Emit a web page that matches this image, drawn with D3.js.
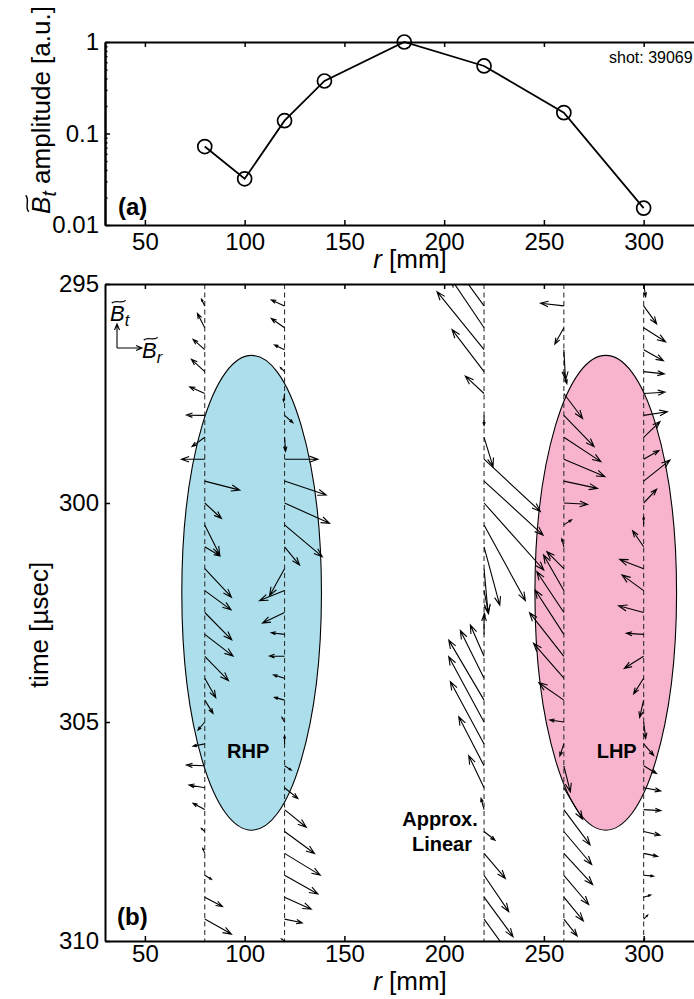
<!DOCTYPE html>
<html>
<head>
<meta charset="utf-8">
<script src="https://cdn.jsdelivr.net/npm/d3@7"></script>
<style>
  body { margin: 0; background: #fff; }
  svg { display: block; }
</style>
</head>
<body>
<div id="container"></div>
<script>
/* CONSTANTS */
const width = 694, height = 999;
const fontFace = '"Liberation Sans", Arial, Helvetica, sans-serif';

/* DATA : panel (a) */
const probeR = [80, 100, 120, 140, 180, 220, 260, 300];
const ampBt = [0.072, 0.032, 0.138, 0.375, 1.0, 0.547, 0.169, 0.0153];
const ampTicks = [0.01, 0.1, 1];
const ampTickLabels = ["0.01", "0.1", "1"];
const rTicks = [50, 100, 150, 200, 250, 300];

/* DATA : panel (b) quiver, Br / Bt in a.u. (Bt positive = up) */
const quiverR = [80, 120, 220, 260, 300];
const quiverT = [295, 295.5, 296, 296.5, 297, 297.5, 298, 298.5, 299, 299.5, 300,
                 300.5, 301, 301.5, 302, 302.5, 303, 303.5, 304, 304.5, 305,
                 305.5, 306, 306.5, 307, 307.5, 308, 308.5, 309, 309.5, 310];
const timeTicks = [295, 300, 305, 310];

const br80 = [0, -3.3, -7.3, -11.7, -13.3, -15, -18.3, -12.7, -23.3, 35, 16.7, 15, 15, 26.7, 26.3, 27,
              28.3, 23.7, 11, 8.3, -6.7, -11.7, -18.3, -15.7, -11.7, -3.3, -2, 6.7, 17.7, 26.7, 0];
const bt80 = [0, 6.7, 14.3, 10.3, 12.3, 6.7, 0.3, -9.3, 0, -9, -15.5, -30, -9, -28.5, -19.3, -27.3,
              -21.7, -24.3, -19.5, -13.3, -8, -2.3, 0.7, 2.7, 6.3, 3, 5, -4, -9.3, -15, 0];

const br120 = [0, -13.3, -13.3, -10, -4, -1, 8.3, 1, 33.3, 41.7, 45, 37.7, 15, -15, -25, -22,
               -13.3, -15, -11, -10, -2.5, 0, 6.7, 13.3, 21.7, 30, 35.7, 33.3, 26.7, 17.7, -3];
const bt120 = [0, 6, 9.3, 4.7, 4, -8, -7.3, -14, 0, -14, -20.3, -31.7, -18.3, -27, -10, -10.5,
               1.7, 0.3, 3.3, 2.7, 4.5, 8, -4.3, -10.7, -17.7, -22, -21.7, -18.7, -12, -3.7, 2];

const br220 = [-20, -24, -33, -47, -32, -18.7, 0, 9, 56.3, 59, 59.7, 41.3, 15.7, 4, 4.5, 1,
               0, -13.7, -23.7, -35.3, -35.3, -33.7, -25.3, -15.3, -3, 11, 21.3, 24.7, 29, 29, 25];
const bt220 = [28, 33, 49, 58, 42, 17.3, -10, -29.3, -52.3, -54, -67, -75.7, -58.3, -44, -23, -3,
               20, 31.3, 47.7, 60, 65.3, 62.3, 49, 32, 11.3, -8.7, -25, -36.3, -39.5, -40, -35];

const br260 = [0, -23.3, -9, 1.7, 3, 18.7, 30.3, 37, 41, 33.7, 23.7, 7.7, -2, -17, -20.3, -27,
               -28.7, -34.3, -30.3, -25, -14, -4, 6.5, 18.7, 26.2, 27.8, 28.8, 24.8, 19.5, 13.3, 8];
const bt260 = [0, 2.7, -16.3, -30.3, -12, -25, -31.3, -24.3, -17.3, -7.3, -1.3, 5, 8, 17, 35.6, 40.8,
               44.4, 43.6, 34.9, 17.4, 2, -12, -26, -31.5, -35.3, -33, -31.2, -29.2, -23.7, -16.8, -10];

const br300 = [2, 13, 22, 19.7, 20.7, 21.3, 23.7, 16.3, 15.3, 26.3, 13, 0, -11, -24, -21.7, -25,
               -17.3, -19.3, -10, -4, 2, 10, 12.8, 17, 17.3, 16.3, 14, 10, 7, 4, 1];
const bt300 = [-12.7, -18, -14, -11, -2.3, 1.3, 3.7, 15.7, 8.7, 21, 13.7, 8, 16, 9.3, 15.7, 6.7,
               1, -12, -15.7, -17.3, -16.3, -11.5, -7.7, -3.2, -1, -3.7, -3, -0.8, 2.2, 4, 2];

const brAll = [br80, br120, br220, br260, br300];
const btAll = [bt80, bt120, bt220, bt260, bt300];

/* DATA : polarisation regions */
const regionName = ["RHP", "LHP"];
const regionR = [103.5, 281];
const regionT = [302.05, 302.05];
const regionHalfR = [35, 35.5];
const regionHalfT = [5.42, 5.42];
const regionFill = ["#acdfeb", "#f8b4ce"];

/* SCALES */
const x = d3.scaleLinear().domain([30, 330]).range([105, 703.5]);
const yAmp = d3.scaleLog().domain([0.01, 1]).range([225, 42]);
const yTime = d3.scaleLinear().domain([295, 310]).range([284, 941]);
const qLen = d3.scaleLinear().domain([0, 1]).range([0, 1]); // a.u. -> px

const svg = d3.select("#container").append("svg")
  .attr("width", width).attr("height", height)
  .attr("font-family", fontFace);

function styleAxis(g, size) {
  g.attr("font-family", fontFace).attr("font-size", size);
  g.selectAll(".domain").attr("stroke", "#000").attr("stroke-width", 2);
  g.selectAll(".tick line").attr("stroke", "#000").attr("stroke-width", 1.5);
  g.selectAll(".tick text").attr("fill", "#000");
}

// wide tilde drawn over the "B" of a label
function tildeLabel(parent, px, py, sub, rest, size, anchor) {
  const t = parent.append("text").attr("x", px).attr("y", py)
    .attr("font-size", size).attr("text-anchor", anchor).attr("fill", "#000");
  t.append("tspan").attr("font-style", "italic").text("B");
  t.append("tspan").attr("font-style", "italic").attr("font-size", size * 0.75)
    .attr("dy", size * 0.22).text(sub);
  if (rest) t.append("tspan").attr("dy", -size * 0.22).text(rest);
  const e = t.node().getExtentOfChar(0);
  const x0 = e.x + size * 0.08, w = e.width * 0.95, a = size * 0.06;
  const ty = py - size * 0.716 - size * 0.16;
  parent.append("path")
    .attr("d", `M${x0},${ty + a}C${x0 + w * 0.3},${ty - 2 * a} ${x0 + w * 0.7},${ty + 2 * a} ${x0 + w},${ty - a}`)
    .attr("fill", "none").attr("stroke", "#000").attr("stroke-width", size * 0.055);
}

/* PANEL (a) */
const panelA = svg.append("g");

panelA.append("path")
  .datum(probeR.map((r, i) => ({ r, a: ampBt[i] })))
  .attr("d", d3.line().x(d => x(d.r)).y(d => yAmp(d.a)))
  .attr("fill", "none").attr("stroke", "#000").attr("stroke-width", 1.8);

panelA.selectAll("circle")
  .data(probeR.map((r, i) => ({ r, a: ampBt[i] })))
  .join("circle")
  .attr("cx", d => x(d.r)).attr("cy", d => yAmp(d.a)).attr("r", 7)
  .attr("fill", "none").attr("stroke", "#000").attr("stroke-width", 1.7);

const minorAmp = yAmp.ticks().filter(v => !ampTicks.some(m => Math.abs(m - v) < 1e-9));

panelA.append("g").attr("transform", "translate(0,225)")
  .call(d3.axisBottom(x).tickValues(rTicks).tickSizeInner(-5).tickSizeOuter(0).tickPadding(8))
  .call(g => styleAxis(g, 24));
panelA.append("g").attr("transform", "translate(0,42)")
  .call(d3.axisTop(x).tickValues(rTicks).tickSizeInner(-5).tickSizeOuter(0).tickFormat(""))
  .call(g => styleAxis(g, 24));
panelA.append("g").attr("transform", "translate(105,0)")
  .call(d3.axisLeft(yAmp).tickValues(minorAmp).tickSizeInner(-2.5).tickSizeOuter(0).tickFormat(""))
  .call(g => styleAxis(g, 24));
panelA.append("g").attr("transform", "translate(105,0)")
  .call(d3.axisLeft(yAmp).tickValues(ampTicks).tickFormat((d, i) => ampTickLabels[i])
    .tickSizeInner(-5).tickSizeOuter(0).tickPadding(6))
  .call(g => styleAxis(g, 24));

panelA.append("text").attr("x", 118).attr("y", 215)
  .attr("font-size", 24).attr("font-weight", "bold").text("(a)");
panelA.append("text").attr("x", 609).attr("y", 63)
  .attr("font-size", 16).text("shot: 39069");

const rLabelA = panelA.append("text").attr("x", 410).attr("y", 268)
  .attr("font-size", 26).attr("text-anchor", "middle");
rLabelA.append("tspan").attr("font-style", "italic").text("r");
rLabelA.append("tspan").text(" [mm]");

tildeLabel(panelA.append("g").attr("transform", "translate(50,110) rotate(-90)"),
  0, 0, "t", " amplitude [a.u.]", 26, "middle");

/* PANEL (b) */
const panelB = svg.append("g");

panelB.append("defs").append("clipPath").attr("id", "plotb")
  .append("rect").attr("x", 105).attr("y", 284).attr("width", 598.5).attr("height", 657);

panelB.selectAll("ellipse")
  .data(regionName.map((n, i) => ({ n, r: regionR[i], t: regionT[i], hr: regionHalfR[i], ht: regionHalfT[i], fill: regionFill[i] })))
  .join("ellipse")
  .attr("cx", d => x(d.r)).attr("cy", d => yTime(d.t))
  .attr("rx", d => x(d.r + d.hr) - x(d.r))
  .attr("ry", d => yTime(d.t + d.ht) - yTime(d.t))
  .attr("fill", d => d.fill).attr("stroke", "#000").attr("stroke-width", 1.1);

panelB.selectAll("line.probe")
  .data(quiverR)
  .join("line").attr("class", "probe")
  .attr("x1", d => x(d)).attr("x2", d => x(d))
  .attr("y1", yTime(295)).attr("y2", yTime(310))
  .attr("stroke", "#333").attr("stroke-width", 1.1).attr("stroke-dasharray", "5,3.5");

const arrows = [];
quiverR.forEach((r, i) => quiverT.forEach((t, j) =>
  arrows.push({ r, t, br: brAll[i][j], bt: btAll[i][j] })));

function arrowPath(d) {
  const x0 = x(d.r), y0 = yTime(d.t);
  const dx = qLen(d.br), dy = -qLen(d.bt);
  const L = Math.hypot(dx, dy);
  if (L < 0.5) return "";
  const x1 = x0 + dx, y1 = y0 + dy;
  const ux = dx / L, uy = dy / L;
  const h = Math.min(0.33 * L, 8.5), w = h * 0.36;
  const bx = x1 - h * ux, by = y1 - h * uy;
  return `M${x0},${y0}L${x1},${y1}M${bx - w * uy},${by + w * ux}L${x1},${y1}L${bx + w * uy},${by - w * ux}`;
}

panelB.append("g").attr("clip-path", "url(#plotb)")
  .selectAll("path")
  .data(arrows)
  .join("path")
  .attr("d", arrowPath)
  .attr("fill", "none").attr("stroke", "#000").attr("stroke-width", 1.1);

panelB.append("g").attr("transform", "translate(0,941)")
  .call(d3.axisBottom(x).tickValues(rTicks).tickSizeInner(-5).tickSizeOuter(0).tickPadding(4))
  .call(g => styleAxis(g, 24));
panelB.append("g").attr("transform", "translate(0,284)")
  .call(d3.axisTop(x).tickValues(rTicks).tickSizeInner(-5).tickSizeOuter(0).tickFormat(""))
  .call(g => styleAxis(g, 24));
panelB.append("g").attr("transform", "translate(105,0)")
  .call(d3.axisLeft(yTime).tickValues(timeTicks).tickSizeInner(-5).tickSizeOuter(0).tickPadding(6))
  .call(g => styleAxis(g, 24));

// legend arrows
const leg = panelB.append("g");
const lx = 117, ly = 348;
leg.append("path")
  .attr("d", `M${lx},${ly}L${lx},${ly - 24}M${lx - 2.5},${ly - 18}L${lx},${ly - 24}L${lx + 2.5},${ly - 18}` +
             `M${lx},${ly}L${lx + 25},${ly}M${lx + 19},${ly - 2.5}L${lx + 25},${ly}L${lx + 19},${ly + 2.5}`)
  .attr("fill", "none").attr("stroke", "#000").attr("stroke-width", 1.1);
tildeLabel(leg, 110, 321, "t", null, 22, "start");
tildeLabel(leg, 142, 358, "r", null, 22, "start");

panelB.append("text").attr("x", 117).attr("y", 925)
  .attr("font-size", 24).attr("font-weight", "bold").text("(b)");
panelB.append("text").attr("x", x(101.8)).attr("y", 758)
  .attr("font-size", 20).attr("font-weight", "bold").attr("text-anchor", "middle").text(regionName[0]);
panelB.append("text").attr("x", x(286.5)).attr("y", 758)
  .attr("font-size", 20).attr("font-weight", "bold").attr("text-anchor", "middle").text(regionName[1]);
panelB.append("text").attr("x", 440).attr("y", 826)
  .attr("font-size", 20).attr("font-weight", "bold").attr("text-anchor", "middle").text("Approx.");
panelB.append("text").attr("x", 442).attr("y", 851)
  .attr("font-size", 20).attr("font-weight", "bold").attr("text-anchor", "middle").text("Linear");

const rLabelB = panelB.append("text").attr("x", 410).attr("y", 990)
  .attr("font-size", 26).attr("text-anchor", "middle");
rLabelB.append("tspan").attr("font-style", "italic").text("r");
rLabelB.append("tspan").text(" [mm]");

panelB.append("text").attr("transform", "translate(48,625) rotate(-90)")
  .attr("font-size", 26).attr("text-anchor", "middle").text("time [µsec]");
</script>
</body>
</html>
